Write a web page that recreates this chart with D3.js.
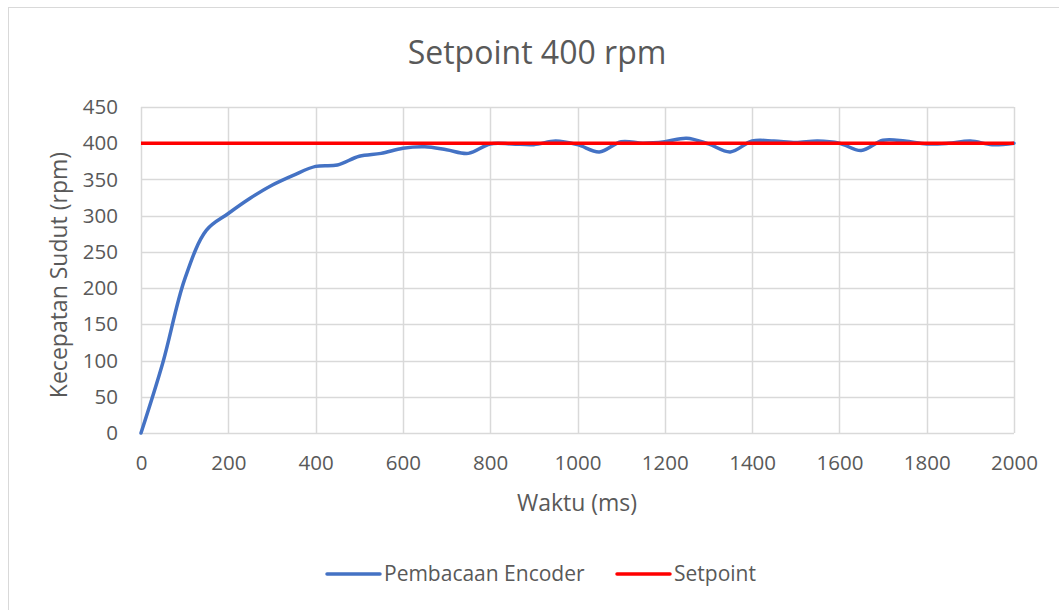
<!DOCTYPE html>
<html lang="en">
<head>
<meta charset="utf-8">
<title>Setpoint 400 rpm</title>
<script src="https://d3js.org/d3.v7.min.js"></script>
<style>
  body { margin: 0; background: #fff; }
  text { font-family: "Open Sans", "Noto Sans", sans-serif; fill: #595959; }
</style>
</head>
<body>
<div id="chart"></div>
<script>
// data
var waktu = [0, 50, 100, 150, 200, 250, 300, 350, 400, 450, 500, 550, 600, 650, 700,
             750, 800, 850, 900, 950, 1000, 1050, 1100, 1150, 1200, 1250, 1300, 1350,
             1400, 1450, 1500, 1550, 1600, 1650, 1700, 1750, 1800, 1850, 1900, 1950, 2000];
var encoder = [0, 97, 212, 280, 303, 324, 342, 356, 368, 370, 382, 386, 393, 395, 391,
               386, 399, 399, 398, 403, 398, 388, 402, 400, 402, 407, 399, 388,
               403, 403, 401, 403, 400, 390, 404, 403, 399, 400, 403, 398, 400];
var setpoint = waktu.map(function() { return 400; });
var xTicks = [0, 200, 400, 600, 800, 1000, 1200, 1400, 1600, 1800, 2000];
var yTicks = [0, 50, 100, 150, 200, 250, 300, 350, 400, 450];

var W = 1059, H = 610;
var margin = {left: 141, right: 45, top: 107, bottom: 177};
var width = W - margin.left - margin.right,
    height = H - margin.top - margin.bottom;

var svg = d3.select("#chart").append("svg")
    .attr("width", W)
    .attr("height", H);

// chart area border
svg.append("rect")
    .attr("x", 8.5).attr("y", 7.5)
    .attr("width", W + 10).attr("height", H + 10)
    .attr("fill", "none").attr("stroke", "#d9d9d9");

var g = svg.append("g")
    .attr("transform", "translate(" + margin.left + "," + margin.top + ")");

var x = d3.scaleLinear().domain([0, 2000]).range([0, width]);
var y = d3.scaleLinear().domain([0, 450]).range([height, 0]);

// gridlines
g.selectAll(".hgrid").data(yTicks).enter().append("line")
    .attr("x1", 0).attr("x2", width)
    .attr("y1", function(d) { return Math.round(y(d)) + 0.5; })
    .attr("y2", function(d) { return Math.round(y(d)) + 0.5; })
    .attr("stroke", "#d9d9d9").attr("stroke-width", 1.5);
g.selectAll(".vgrid").data(xTicks).enter().append("line")
    .attr("y1", 0).attr("y2", height)
    .attr("x1", function(d) { return Math.round(x(d)) + 0.5; })
    .attr("x2", function(d) { return Math.round(x(d)) + 0.5; })
    .attr("stroke", "#d9d9d9").attr("stroke-width", 1.5);

// axes (labels only)
var xAxis = g.append("g")
    .attr("transform", "translate(0," + height + ")")
    .call(d3.axisBottom(x).tickValues(xTicks).tickSize(0).tickPadding(22).tickFormat(d3.format("d")));
xAxis.select(".domain").remove();
xAxis.selectAll("text").style("font-size", "20.5px").style("fill", "#595959");

var yAxis = g.append("g")
    .call(d3.axisLeft(y).tickValues(yTicks).tickSize(0).tickPadding(23).tickFormat(d3.format("d")));
yAxis.select(".domain").remove();
yAxis.selectAll("text").style("font-size", "20.5px").style("fill", "#595959");

// lines
var line = d3.line()
    .x(function(d) { return x(d[0]); })
    .y(function(d) { return y(d[1]); })
    .curve(d3.curveCatmullRom.alpha(0.5));

g.append("path")
    .datum(waktu.map(function(t, i) { return [t, encoder[i]]; }))
    .attr("fill", "none").attr("stroke", "#4472c4").attr("stroke-width", 3.5)
    .attr("stroke-linecap", "round").attr("stroke-linejoin", "round")
    .attr("d", line);

g.append("path")
    .datum(waktu.map(function(t, i) { return [t, setpoint[i]]; }))
    .attr("fill", "none").attr("stroke", "#ff0000").attr("stroke-width", 3.5)
    .attr("d", line);

// title and axis titles
svg.append("text")
    .attr("x", 537).attr("y", 64)
    .attr("text-anchor", "middle")
    .style("font-size", "32px")
    .text("Setpoint 400 rpm");

svg.append("text")
    .attr("x", 577).attr("y", 511)
    .attr("text-anchor", "middle")
    .style("font-size", "23px")
    .text("Waktu (ms)");

svg.append("text")
    .attr("transform", "translate(67,275) rotate(-90)")
    .attr("text-anchor", "middle")
    .style("font-size", "23px")
    .text("Kecepatan Sudut (rpm)");

// legend
var legend = [
  {name: "Pembacaan Encoder", color: "#4472c4", x: 327},
  {name: "Setpoint", color: "#ff0000", x: 617}
];
var lg = svg.selectAll(".legend").data(legend).enter().append("g")
    .attr("transform", function(d) { return "translate(" + d.x + ",574)"; });
lg.append("line")
    .attr("x1", 0).attr("x2", 53).attr("y1", 0).attr("y2", 0)
    .attr("stroke", function(d) { return d.color; })
    .attr("stroke-width", 3.5).attr("stroke-linecap", "round");
lg.append("text")
    .attr("x", 57).attr("y", 0).attr("dy", "0.35em")
    .style("font-size", "21px")
    .text(function(d) { return d.name; });
</script>
</body>
</html>
